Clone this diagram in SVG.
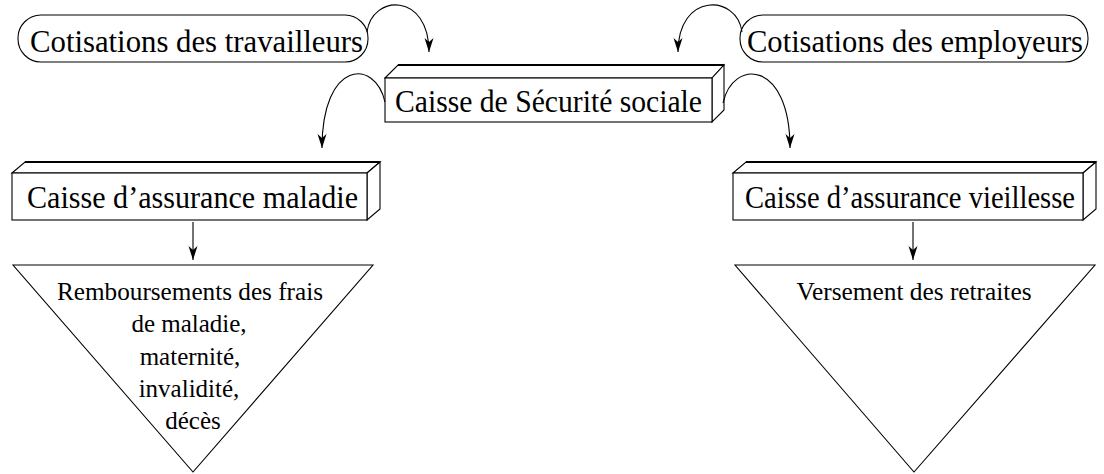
<svg xmlns="http://www.w3.org/2000/svg" width="1104" height="474" viewBox="0 0 1104 474">
<style>
.f{fill:#fff;stroke:#000;stroke-width:1.1;stroke-linejoin:miter}
.t{font-family:"Liberation Serif","Times New Roman",serif;fill:#000}
.big{font-size:31px}
.sm{font-size:25px;text-anchor:middle}
.c{fill:none;stroke:#000;stroke-width:1.1;marker-end:url(#ah)}
</style>
<defs>
<marker id="ah" markerUnits="userSpaceOnUse" viewBox="-15 -6 16 12" refX="0" refY="0" markerWidth="16" markerHeight="12" orient="auto">
<path d="M0,0 L-14,-4.5 L-10,0 L-14,4.5 Z" fill="#000"/>
</marker>
</defs>
<rect width="1104" height="474" fill="#fff"/>

<g id="cot-trav">
<rect x="18" y="15" width="350" height="47" rx="23" ry="23" class="f"/>
<text class="t big" x="30" y="52" textLength="333" lengthAdjust="spacingAndGlyphs">Cotisations des travailleurs</text>
</g>

<g id="cot-empl">
<rect x="740" y="15" width="348" height="47" rx="23" ry="23" class="f"/>
<text class="t big" x="747" y="52" textLength="336" lengthAdjust="spacingAndGlyphs">Cotisations des employeurs</text>
</g>

<g id="secu">
<polygon points="385,78 398,65 724,65 712,78" class="f"/>
<polygon points="712,78 724,65 724,110 712,122" class="f"/>
<line x1="398" y1="65" x2="724" y2="65" stroke="#000" stroke-width="2"/>
<rect x="385" y="78" width="327" height="44" class="f"/>
<text class="t big" x="395" y="112" textLength="307" lengthAdjust="spacingAndGlyphs">Caisse de Sécurité sociale</text>
</g>

<g id="maladie">
<polygon points="12,173 25,162 380,162 367,173" class="f"/>
<polygon points="367,173 380,162 380,209 367,220" class="f"/>
<line x1="25" y1="162" x2="380" y2="162" stroke="#000" stroke-width="2"/>
<rect x="12" y="173" width="355" height="47" class="f"/>
<text class="t big" x="27" y="208" textLength="331" lengthAdjust="spacingAndGlyphs">Caisse d’assurance maladie</text>
</g>

<g id="vieillesse">
<polygon points="733,173 746,162 1096,162 1083,173" class="f"/>
<polygon points="1083,173 1096,162 1096,209 1083,220" class="f"/>
<line x1="746" y1="162" x2="1096" y2="162" stroke="#000" stroke-width="2"/>
<rect x="733" y="173" width="350" height="47" class="f"/>
<text class="t big" x="745" y="208" textLength="330" lengthAdjust="spacingAndGlyphs">Caisse d’assurance vieillesse</text>
</g>

<g id="remb">
<polygon points="13,265 373,265 193,472" class="f"/>
<text class="t sm" x="190" y="300" textLength="266" lengthAdjust="spacingAndGlyphs">Remboursements des frais</text>
<text class="t sm" x="189" y="332">de maladie,</text>
<text class="t sm" x="190" y="365">maternité,</text>
<text class="t sm" x="189" y="397">invalidité,</text>
<text class="t sm" x="193" y="429">décès</text>
</g>

<g id="retraites">
<polygon points="735,265 1095,265 914,472" class="f"/>
<text class="t sm" x="914" y="300" textLength="235" lengthAdjust="spacingAndGlyphs">Versement des retraites</text>
</g>

<g id="connectors">
<path class="c" d="M367,32 C372,-6 429,-8 429,52"/>
<path class="c" d="M742,32 C737,-6 678,-8 678,52"/>
<path class="c" d="M385,102 C375,58 322,60 322,148"/>
<path class="c" d="M723,103 C733,58 790,60 790,148"/>
<path class="c" d="M193,222 L193,260"/>
<path class="c" d="M913,222 L913,260"/>
</g>
</svg>
